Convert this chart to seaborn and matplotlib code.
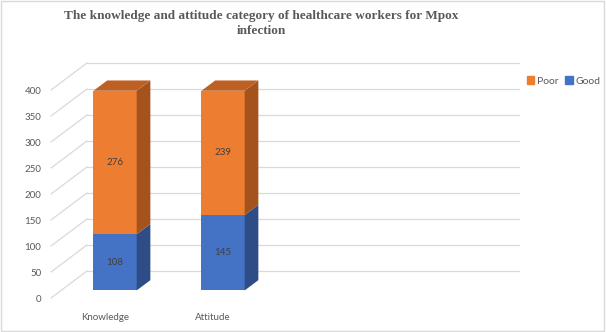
import matplotlib
matplotlib.use("Agg")
import matplotlib.pyplot as plt
from matplotlib.patches import Polygon, Patch, Rectangle
import seaborn as sns

# data
categories = ["Knowledge", "Attitude"]
good = [108, 145]
poor = [276, 239]
yticks = list(range(0, 401, 50))
title = "The knowledge and attitude category of healthcare workers for Mpox\ninfection"

ORANGE = "#ED7D31"
ORANGE_SIDE = "#A5531D"
ORANGE_TOP = "#BE6024"
BLUE = "#4472C4"
BLUE_SIDE = "#2E4D86"
GRID = "#D9D9D9"
TEXT = "#595959"

# fake 3D: depth offset of the back wall in (category, value) units
KX, KY = 1 / 3, 52
D0, DD = 0.28, 0.38  # bar front position and bar thickness, as share of depth

sns.set_theme(style="white")
plt.rcParams["font.family"] = ["Lato", "DejaVu Sans"]

fig = plt.figure(figsize=(6.06, 3.32), dpi=100)
ax = fig.add_axes([51 / 606, 34 / 332, 432 / 606, 208 / 332])

# back wall grid + slanted lines from the front edge
for v in yticks:
    ax.plot([-0.5, -0.5 + KX], [v, v + KY], color=GRID, lw=0.9, clip_on=False, zorder=0)
    ax.plot([-0.5 + KX, 3.5 + KX], [v + KY, v + KY], color=GRID, lw=0.9, clip_on=False, zorder=0)

sns.barplot(x=categories, y=good, color=BLUE, width=0.4, saturation=1,
            errorbar=None, linewidth=0, ax=ax, zorder=2)
sns.barplot(x=categories, y=poor, bottom=good, color=ORANGE, width=0.4, saturation=1,
            errorbar=None, linewidth=0, ax=ax, zorder=2)

sides = [BLUE_SIDE, ORANGE_SIDE]
for i, cont in enumerate(ax.containers):
    for bar in cont:
        bar.set_clip_on(False)
        bar.set_x(bar.get_x() + D0 * KX)
        bar.set_y(bar.get_y() + D0 * KY)
        x0, y0 = bar.get_x(), bar.get_y()
        x1, y1 = x0 + bar.get_width(), y0 + bar.get_height()
        side = Polygon([(x1, y0), (x1 + DD * KX, y0 + DD * KY),
                        (x1 + DD * KX, y1 + DD * KY), (x1, y1)],
                       closed=True, facecolor=sides[i], lw=0, zorder=2, clip_on=False)
        ax.add_patch(side)
        if i == len(ax.containers) - 1:
            top = Polygon([(x0, y1), (x1, y1), (x1 + DD * KX, y1 + DD * KY),
                           (x0 + DD * KX, y1 + DD * KY)],
                          closed=True, facecolor=ORANGE_TOP, lw=0, zorder=2, clip_on=False)
            ax.add_patch(top)
    ax.bar_label(cont, label_type="center", color="#404040", fontsize=7)

ax.set_xlim(-0.5, 3.5)
ax.set_ylim(0, 400)
ax.set_yticks(yticks)
ax.set_xlabel("")
ax.set_ylabel("")
for s in ax.spines.values():
    s.set_visible(False)
ax.tick_params(axis="y", length=0, pad=7, labelsize=7, labelcolor=TEXT)
ax.tick_params(axis="x", length=0, pad=11, labelsize=7, labelcolor=TEXT)

fig.text(261 / 606, 1 - 10 / 332, title, ha="center", va="top", fontsize=9.5,
         fontweight="bold", family="Liberation Serif", color=TEXT, linespacing=1.35)

fig.legend(handles=[Patch(color=ORANGE, label="Poor"), Patch(color=BLUE, label="Good")],
           loc="center left", bbox_to_anchor=(527 / 606, 1 - 81 / 332), ncol=2,
           frameon=False, fontsize=7.5, labelcolor=TEXT, handlelength=0.7,
           handleheight=0.7, handletextpad=0.3, columnspacing=0.6,
           borderpad=0, borderaxespad=0)

fig.add_artist(Rectangle((0.002, 0.003), 0.995, 0.993, transform=fig.transFigure,
                         fill=False, edgecolor=GRID, lw=1))

fig.savefig("out.png", dpi=100)
